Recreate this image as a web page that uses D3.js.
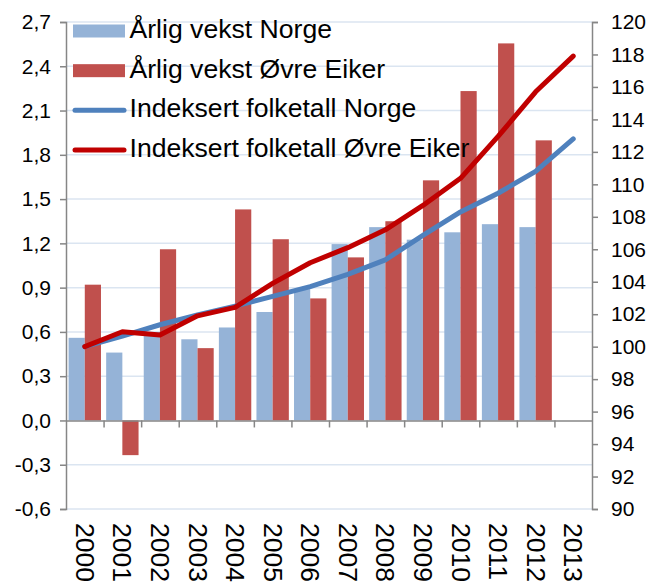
<!DOCTYPE html>
<html>
<head>
<meta charset="utf-8">
<script src="https://cdn.jsdelivr.net/npm/d3@7"></script>
<style>
  html, body { margin: 0; padding: 0; background: #fff; }
  svg { display: block; }
  text { font-family: "Liberation Sans", Arial, sans-serif; fill: #000; }
</style>
</head>
<body>
<svg id="chart" width="647" height="584"></svg>
<script>
// ---- data ----
const years = ["2000","2001","2002","2003","2004","2005","2006","2007","2008","2009","2010","2011","2012","2013"];
const growthNorge = [0.56, 0.46, 0.60, 0.55, 0.63, 0.735, 0.89, 1.195, 1.31, 1.225, 1.275, 1.33, 1.31, null];
const growthEiker = [0.92, -0.235, 1.16, 0.49, 1.43, 1.228, 0.827, 1.105, 1.35, 1.627, 2.232, 2.555, 1.898, null];
const indexNorge = [100, 100.65, 101.35, 101.95, 102.5, 103.1, 103.7, 104.45, 105.35, 106.85, 108.3, 109.45, 110.8, 112.8];
const indexEiker = [100, 100.92, 100.72, 101.9, 102.42, 103.9, 105.17, 106.1, 107.2, 108.7, 110.37, 112.95, 115.7, 117.9];
const leftTicks = [-0.6, -0.3, 0, 0.3, 0.6, 0.9, 1.2, 1.5, 1.8, 2.1, 2.4, 2.7];
const rightTicks = [90, 92, 94, 96, 98, 100, 102, 104, 106, 108, 110, 112, 114, 116, 118, 120];
const legendLabels = ["Årlig vekst Norge", "Årlig vekst Øvre Eiker", "Indeksert folketall Norge", "Indeksert folketall Øvre Eiker"];

// ---- styles ----
const C = { barN: "#95b3d7", barE: "#c0504d", lineN: "#4f81bd", lineE: "#c00000", axis: "#868686", grid: "#dbe5f1" };
const L = 66, R = 592, T = 22, B = 509;

const svg = d3.select("#chart");
svg.append("rect").attr("width", 647).attr("height", 584).attr("fill", "#fff");

const x = d3.scaleBand().domain(years).range([L, R]).padding(0);
const bw = x.bandwidth();
const xSub = d3.scaleBand().domain(["n", "e"]).range([0, bw]).paddingInner(0).paddingOuter(0.16);
const yL = d3.scaleLinear().domain([-0.6, 2.7]).range([B, T]);
const yR = d3.scaleLinear().domain([90, 120]).range([B, T]);
const fmt = v => d3.format(".1f")(v).replace("−", "-").replace(".", ",");

// gridlines
svg.append("g").selectAll("line").data(leftTicks.filter(v => v !== 0)).join("line")
  .attr("x1", L).attr("x2", R).attr("y1", d => yL(d)).attr("y2", d => yL(d))
  .attr("stroke", C.grid).attr("stroke-width", 1.5);

// bars
const rows = years.map((y, i) => ({ year: y, n: growthNorge[i], e: growthEiker[i] }));
const gBars = svg.append("g");
gBars.selectAll("rect.n").data(rows.filter(d => d.n != null)).join("rect").attr("class", "n")
  .attr("x", d => x(d.year) + xSub("n")).attr("width", xSub.bandwidth())
  .attr("y", d => Math.min(yL(d.n), yL(0))).attr("height", d => Math.abs(yL(d.n) - yL(0)))
  .attr("fill", C.barN);
gBars.selectAll("rect.e").data(rows.filter(d => d.e != null)).join("rect").attr("class", "e")
  .attr("x", d => x(d.year) + xSub("e")).attr("width", xSub.bandwidth())
  .attr("y", d => Math.min(yL(d.e), yL(0))).attr("height", d => Math.abs(yL(d.e) - yL(0)))
  .attr("fill", C.barE);

// left axis
const axL = svg.append("g").attr("transform", `translate(${L},0)`)
  .call(d3.axisLeft(yL).tickValues(leftTicks).tickFormat(fmt).tickSize(6).tickSizeOuter(6).tickPadding(9));
// right axis
const axR = svg.append("g").attr("transform", `translate(${R},0)`)
  .call(d3.axisRight(yR).tickValues(rightTicks).tickFormat(d3.format("d")).tickSize(6).tickSizeOuter(6).tickPadding(13));
// x axis at zero (ticks at band edges)
const xEdge = d3.scaleLinear().domain([0, years.length]).range([L, R]);
const axX = svg.append("g").attr("transform", `translate(0,${yL(0)})`)
  .call(d3.axisBottom(xEdge).tickValues(d3.range(1, years.length)).tickFormat("").tickSize(7).tickSizeOuter(0));
[axL, axR, axX].forEach(a => {
  a.selectAll("path.domain").attr("stroke", C.axis).attr("stroke-width", 1.5);
  a.selectAll(".tick line").attr("stroke", C.axis).attr("stroke-width", 1.5);
  a.selectAll("text").style("font-size", "21px").attr("fill", "#000");
});

// category labels (rotated)
svg.append("g").selectAll("text").data(years).join("text")
  .attr("transform", d => `translate(${x(d) + bw / 2},523) rotate(90)`)
  .attr("text-anchor", "start").attr("dominant-baseline", "central")
  .style("font-size", "26.5px").text(d => d);

// lines
const line = d3.line().x(d => x(d.year) + bw / 2).y(d => yR(d.v));
svg.append("path").datum(years.map((y, i) => ({ year: y, v: indexNorge[i] })))
  .attr("d", line).attr("fill", "none").attr("stroke", C.lineN).attr("stroke-width", 5)
  .attr("stroke-linejoin", "round").attr("stroke-linecap", "round");
svg.append("path").datum(years.map((y, i) => ({ year: y, v: indexEiker[i] })))
  .attr("d", line).attr("fill", "none").attr("stroke", C.lineE).attr("stroke-width", 5)
  .attr("stroke-linejoin", "round").attr("stroke-linecap", "round");

// legend
const legY = d3.scaleLinear().domain([0, 3]).range([31, 150]);
const kinds = ["bar", "bar", "line", "line"];
const legColors = [C.barN, C.barE, C.lineN, C.lineE];
const gLeg = svg.append("g");
legendLabels.forEach((lab, i) => {
  const cy = legY(i);
  if (kinds[i] === "bar") {
    gLeg.append("rect").attr("x", 73).attr("y", cy - 6.5).attr("width", 52).attr("height", 13).attr("fill", legColors[i]);
  } else {
    gLeg.append("line").attr("x1", 75).attr("x2", 124).attr("y1", cy).attr("y2", cy)
      .attr("stroke", legColors[i]).attr("stroke-width", 5).attr("stroke-linecap", "round");
  }
  gLeg.append("text").attr("x", 129.5).attr("y", cy + 7).style("font-size", "26.6px").text(lab);
});
</script>
</body>
</html>
